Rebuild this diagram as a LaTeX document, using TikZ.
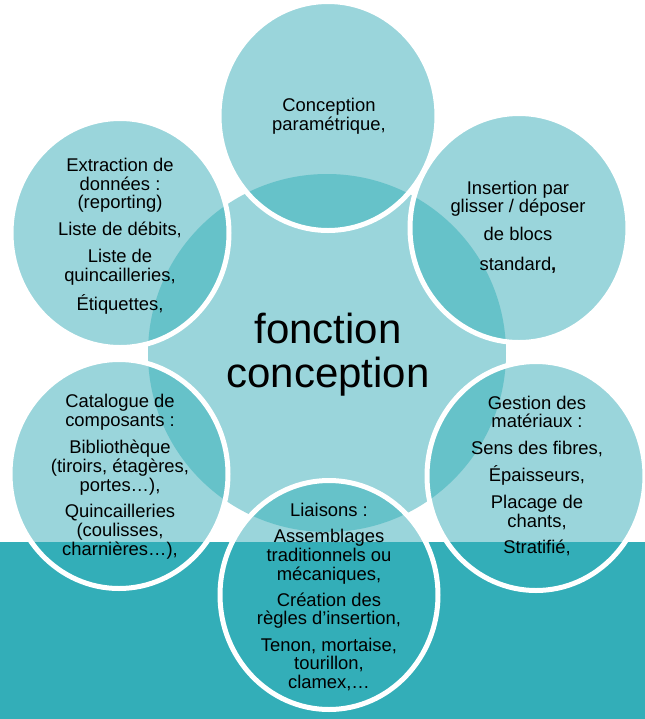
\documentclass[tikz,border=0pt]{standalone}
\usepackage{fontspec}
\setmainfont{Liberation Sans}
\definecolor{lightteal}{RGB}{154,213,219}
\definecolor{darkteal}{RGB}{102,194,201}
\definecolor{barteal}{RGB}{51,174,184}
\begin{document}
\begin{tikzpicture}[x=0.75pt,y=-0.75pt,
  small/.style={align=center, font=\fontsize{13.8}{14.1}\selectfont, text=black, inner sep=0pt},
  big/.style={align=center, font=\fontsize{31.5}{33}\selectfont, text=black, inner sep=0pt},
  ring/.style={white, line width=3.75pt}]
\useasboundingbox (0,0) rectangle (645,719);
\coordinate (C) at (327,353);
\coordinate (o1) at (328,116);
\coordinate (o2) at (519,228);
\coordinate (o3) at (536,476);
\coordinate (o4) at (329,595);
\coordinate (o5) at (119,474);
\coordinate (o6) at (120,233);
% central disc
\fill[lightteal] (C) circle [radius=179];
% outer discs
\foreach \i in {1,...,6} \fill[lightteal] (o\i) ellipse [x radius=109, y radius=114.5];
% overlaps
\begin{scope}
  \clip (C) circle [radius=179];
  \foreach \i in {1,...,6} \fill[darkteal] (o\i) ellipse [x radius=109, y radius=114.5];
\end{scope}
% bottom band
\fill[barteal] (0,542) rectangle (645,719);
% white rings
\foreach \i in {1,...,6} \draw[ring] (o\i) ellipse [x radius=109, y radius=114.5];
% texts
\node[big] (ctr) at (328,355) {fonction\\conception};
\node[small] (t1) at (329,116) {Conception\\paramétrique,};
\node[small] (t2) at (518,227) {Insertion par\\glisser / déposer\\[7pt]de blocs\\[8pt]standard\textbf{,}};
\node[small] (t3) at (537,476) {Gestion des\\matériaux :\\[6pt]Sens des fibres,\\[6pt]Épaisseurs,\\[6pt]Placage de\\chants,\\[6pt]Stratifié,};
\node[small] (t4) at (329,597) {Liaisons :\\[5.5pt]Assemblages\\traditionnels ou\\mécaniques,\\[5.5pt]Création des\\règles d’insertion,\\[5.5pt]Tenon, mortaise,\\tourillon,\\clamex,…};
\node[small] (t5) at (120,477) {Catalogue de\\composants :\\[6pt]Bibliothèque\\(tiroirs, étagères,\\portes…),\\[6pt]Quincailleries\\(coulisses,\\charnières…),};
\node[small] (t6) at (120,236) {Extraction de\\données :\\(reporting)\\[6pt]Liste de débits,\\[6pt]Liste de\\quincailleries,\\[6pt]Étiquettes,};
\end{tikzpicture}
\end{document}
